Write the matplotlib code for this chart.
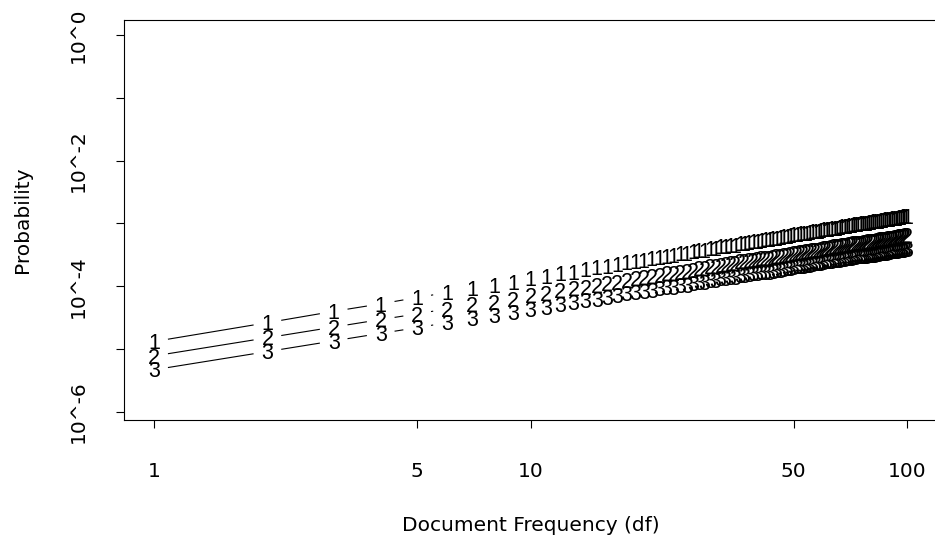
import numpy as np
import matplotlib
matplotlib.use('Agg')
import matplotlib.pyplot as plt
from matplotlib.collections import LineCollection
from matplotlib.ticker import NullLocator

# Document frequency 1..100 and log10 probability
df_values = list(range(1, 101))

log_p1 = [-4.88, -4.58, -4.40, -4.28, -4.18, -4.10, -4.03, -3.98, -3.93, -3.88,
          -3.84, -3.80, -3.77, -3.73, -3.70, -3.68, -3.65, -3.62, -3.60, -3.58,
          -3.56, -3.54, -3.52, -3.50, -3.48, -3.47, -3.45, -3.43, -3.42, -3.40,
          -3.39, -3.37, -3.36, -3.35, -3.34, -3.32, -3.31, -3.30, -3.29, -3.28,
          -3.27, -3.26, -3.25, -3.24, -3.23, -3.22, -3.21, -3.20, -3.19, -3.18,
          -3.17, -3.16, -3.16, -3.15, -3.14, -3.13, -3.12, -3.12, -3.11, -3.10,
          -3.09, -3.09, -3.08, -3.07, -3.07, -3.06, -3.05, -3.05, -3.04, -3.03,
          -3.03, -3.02, -3.02, -3.01, -3.00, -3.00, -2.99, -2.99, -2.98, -2.98,
          -2.97, -2.97, -2.96, -2.96, -2.95, -2.95, -2.94, -2.94, -2.93, -2.93,
          -2.92, -2.92, -2.91, -2.91, -2.90, -2.90, -2.89, -2.89, -2.88, -2.88]

log_p2 = [-5.11, -4.82, -4.65, -4.53, -4.44, -4.36, -4.29, -4.25, -4.20, -4.15,
          -4.11, -4.07, -4.04, -4.01, -3.98, -3.96, -3.93, -3.90, -3.88, -3.86,
          -3.84, -3.82, -3.80, -3.79, -3.77, -3.76, -3.74, -3.72, -3.71, -3.69,
          -3.68, -3.66, -3.65, -3.64, -3.63, -3.61, -3.60, -3.59, -3.58, -3.57,
          -3.56, -3.55, -3.55, -3.54, -3.53, -3.52, -3.51, -3.50, -3.49, -3.48,
          -3.47, -3.46, -3.46, -3.45, -3.44, -3.43, -3.42, -3.42, -3.41, -3.40,
          -3.39, -3.39, -3.38, -3.37, -3.37, -3.36, -3.35, -3.35, -3.34, -3.33,
          -3.33, -3.32, -3.32, -3.31, -3.31, -3.31, -3.30, -3.30, -3.29, -3.29,
          -3.28, -3.28, -3.27, -3.27, -3.26, -3.26, -3.25, -3.25, -3.24, -3.24,
          -3.23, -3.23, -3.22, -3.22, -3.21, -3.21, -3.20, -3.20, -3.19, -3.19]

log_p3 = [-5.33, -5.04, -4.87, -4.75, -4.66, -4.58, -4.51, -4.47, -4.42, -4.37,
          -4.33, -4.29, -4.26, -4.23, -4.20, -4.18, -4.15, -4.12, -4.10, -4.08,
          -4.06, -4.04, -4.02, -4.01, -3.99, -3.98, -3.96, -3.94, -3.93, -3.91,
          -3.90, -3.88, -3.87, -3.86, -3.85, -3.83, -3.82, -3.81, -3.80, -3.79,
          -3.78, -3.77, -3.77, -3.76, -3.75, -3.74, -3.73, -3.72, -3.71, -3.70,
          -3.69, -3.68, -3.68, -3.67, -3.66, -3.65, -3.64, -3.64, -3.63, -3.62,
          -3.61, -3.61, -3.60, -3.59, -3.59, -3.58, -3.57, -3.57, -3.56, -3.55,
          -3.55, -3.54, -3.54, -3.53, -3.53, -3.53, -3.52, -3.52, -3.51, -3.51,
          -3.50, -3.50, -3.49, -3.49, -3.48, -3.48, -3.47, -3.47, -3.46, -3.46,
          -3.45, -3.45, -3.44, -3.44, -3.43, -3.43, -3.42, -3.42, -3.41, -3.41]

series_labels = ['1', '2', '3']

x_ticks = [1, 5, 10, 50, 100]
x_tick_labels = ['1', '5', '10', '50', '100']
y_ticks = [1e0, 1e-1, 1e-2, 1e-3, 1e-4, 1e-5, 1e-6]
y_tick_labels = ['10^0', '', '10^-2', '', '10^-4', '', '10^-6']

FS = 14.5        # axis text
PCH_FS = 15.5    # plotting characters
plt.rcParams['font.family'] = 'DejaVu Sans'

W, H = 935, 542
fig = plt.figure(figsize=(W / 100, H / 100), dpi=100)
# plot region, right edge runs just past the picture
ax = fig.add_axes([124 / W, 122 / H, 813 / W, 400 / H])
ax.set_xscale('log')
ax.set_yscale('log')
ax.set_xlim(10 ** -0.08, 10 ** 2.08)
ax.set_ylim(10 ** -6.13, 10 ** 0.24)

for s in ax.spines.values():
    s.set_linewidth(0.8)
    s.set_color('black')

ax.set_xticks(x_ticks)
ax.set_xticklabels(x_tick_labels)
ax.set_yticks(y_ticks)
ax.set_yticklabels(y_tick_labels)
ax.xaxis.set_minor_locator(NullLocator())
ax.yaxis.set_minor_locator(NullLocator())
ax.tick_params(axis='both', direction='out', length=6, width=0.8,
               labelsize=FS, colors='black')
ax.tick_params(axis='x', pad=24)
ax.tick_params(axis='y', pad=20, labelrotation=90)
for lab in ax.get_yticklabels():
    lab.set_verticalalignment('center')

fig.text(530.5 / W, 1 - 531 / H, 'Document Frequency (df)', fontsize=FS,
         ha='center', va='baseline')
fig.text(22 / W, 1 - 220 / H, 'Probability', fontsize=FS,
         ha='center', va='center', rotation=90)

# type = "b" style: segments stop short of each point character
GAP = 14.0
inv = ax.transData.inverted()
x = np.array(df_values, dtype=float)
for logs, lab in zip([log_p1, log_p2, log_p3], series_labels):
    p = 10 ** np.array(logs)
    disp = ax.transData.transform(np.column_stack([x, p]))
    segs = []
    for a, b in zip(disp[:-1], disp[1:]):
        d = b - a
        L = np.hypot(*d)
        if L > 2 * GAP:
            u = d / L
            segs.append(inv.transform(np.array([a + u * GAP, b - u * GAP])))
    ax.add_collection(LineCollection(segs, colors='black', linewidths=0.8))
    for xi, pi in zip(x, p):
        ax.annotate(lab, (xi, pi), xytext=(0, -PCH_FS * 0.716 / 2),
                    textcoords='offset points', ha='center', va='baseline',
                    fontsize=PCH_FS, color='black', family='Liberation Sans')

fig.savefig('out.png', dpi=100)
